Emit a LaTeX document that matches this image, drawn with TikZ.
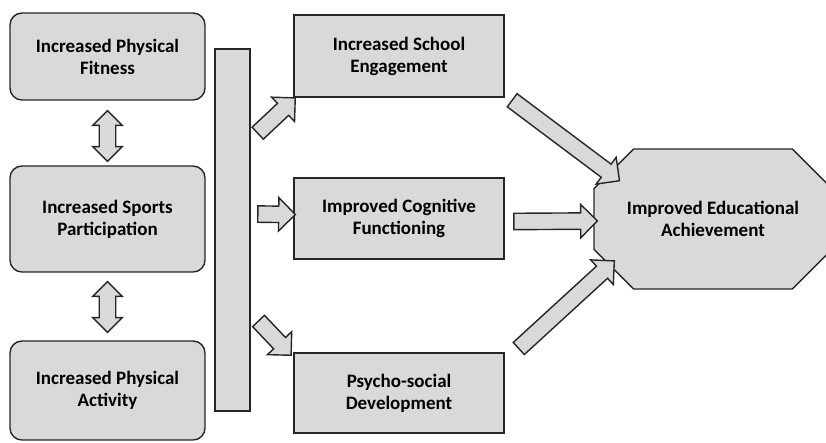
\documentclass[tikz,border=0pt]{standalone}
\usepackage{fontspec}
\setmainfont{Carlito}
\usepackage{tikz}
\usetikzlibrary{shapes.arrows, shapes.misc, positioning, calc}
\definecolor{boxfill}{RGB}{217,217,217}
\definecolor{boxline}{RGB}{38,38,38}
\tikzset{
  roundbox/.style={rectangle, draw=boxline, fill=boxfill,
    minimum width=4.875cm, align=center, rounded corners=0.3cm,
    font=\bfseries\fontsize{13.5}{15.6}\selectfont, line width=1pt},
  plainbox/.style={rectangle, draw=boxline, fill=boxfill,
    minimum width=5.25cm, align=center,
    font=\bfseries\fontsize{13.5}{15.6}\selectfont, line width=1pt},
  octbox/.style={chamfered rectangle, draw=boxline, fill=boxfill,
    chamfered rectangle xsep=0.55cm, chamfered rectangle ysep=0.55cm,
    minimum width=5.95cm, minimum height=3.5cm, inner sep=0pt, align=center,
    font=\bfseries\fontsize{13.5}{15.6}\selectfont, line width=1pt},
  barbox/.style={rectangle, draw=boxline, fill=boxfill,
    minimum width=0.875cm, minimum height=9.05cm, line width=1pt},
  fatarrow/.style={single arrow, draw=boxline, fill=boxfill, line width=1pt,
    inner sep=0.1875cm, single arrow head extend=0.2125cm},
  twoarrow/.style={double arrow, draw=boxline, fill=boxfill, line width=1pt,
    inner sep=0.1875cm, double arrow head extend=0.1625cm}
}
% block arrow from #2 to #3, style #1
\newcommand{\blockarrow}[3][fatarrow]{%
  \path let \p1=($(#3)-(#2)$), \n1={atan2(\y1,\x1)}, \n2={veclen(\x1,\y1)} in
    node[#1, rotate=\n1, minimum height=\n2] at ($(#2)!0.5!(#3)$) {};
}

\begin{document}
\begin{tikzpicture}[x=0.025cm, y=-0.025cm]
  \useasboundingbox (0,0) rectangle (826,442);
  \clip (0,0) rectangle (826,442);

  % Left column
  \node[roundbox, minimum height=2.175cm] (fitness) at (107.5,56.5) {Increased Physical\\Fitness};
  \node[roundbox, minimum height=2.65cm] (sports) at (107.5,219) {Increased Sports\\Participation};
  \node[roundbox, minimum height=2.475cm] (activity) at (107.5,390.5) {Increased Physical\\Activity};

  % Joining bar
  \node[barbox] (linkbar) at (232.5,230) {};

  % Middle column
  \node[plainbox, minimum height=2.05cm] (engage) at (399,56) {Increased School\\Engagement};
  \node[plainbox, minimum height=2.025cm] (cognitive) at (399,218.5) {Improved Cognitive\\Functioning};
  \node[plainbox, minimum height=2cm] (psycho) at (399,393) {Psycho-social\\Development};

  % Outcome
  \node[octbox] (achieve) at (713,219) {Improved Educational\\Achievement};

  % Arrow ends
  \coordinate (d1a) at ($(fitness.south)+(0,10)$);
  \coordinate (d1b) at ($(sports.north)+(0,-4)$);
  \coordinate (d2a) at ($(sports.south)+(0,9)$);
  \coordinate (d2b) at ($(activity.north)+(0,-8)$);
  \coordinate (t1) at ($(linkbar.east)+(4,-94)$);
  \coordinate (h1) at ($(engage.south west)+(-1,3)$);
  \coordinate (t2) at ($(linkbar.east)+(3,-16)$);
  \coordinate (h2) at ($(cognitive.west)+(-2,-4)$);
  \coordinate (t3) at ($(linkbar.east)+(5,88)$);
  \coordinate (h3) at ($(psycho.north west)+(-5,0)$);
  \coordinate (t4) at ($(engage.south east)+(4,0)$);
  \coordinate (h4) at ($(achieve.north west)+(3,10)$);
  \coordinate (t5) at ($(cognitive.east)+(5,3)$);
  \coordinate (h5) at ($(achieve.west)+(0,2)$);
  \coordinate (t6) at ($(psycho.north east)+(11,-1)$);
  \coordinate (h6) at ($(achieve.south west)+(-2,-6)$);

  % Block arrows
  \blockarrow[twoarrow]{d1a}{d1b}
  \blockarrow[twoarrow]{d2a}{d2b}
  \blockarrow{t1}{h1}
  \blockarrow{t2}{h2}
  \blockarrow{t3}{h3}
  \blockarrow{t4}{h4}
  \blockarrow{t5}{h5}
  \blockarrow{t6}{h6}
\end{tikzpicture}
\end{document}
